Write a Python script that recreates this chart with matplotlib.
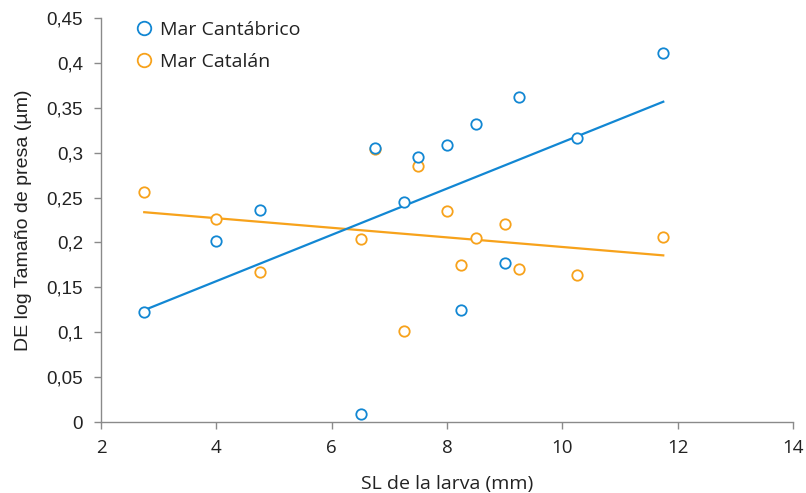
import numpy as np
import matplotlib.pyplot as plt
from matplotlib.ticker import FuncFormatter

# SL de la larva (mm)
sl = [2.75, 4.0, 4.75, 6.5, 6.75, 7.25, 7.5, 8.0, 8.25, 8.5, 9.0, 9.25, 10.25, 11.75]
cantabrico = [0.123, 0.202, 0.236, 0.009, 0.305, 0.245, 0.295, 0.309, 0.125, 0.332, 0.177, 0.362, 0.316, 0.411]
catalan = [0.256, 0.226, 0.167, 0.204, 0.304, 0.101, 0.285, 0.235, 0.175, 0.205, 0.221, 0.170, 0.164, 0.206]

blue = '#1287d3'
orange = '#f7a21b'
grey = '#8a8a8a'

fig = plt.figure(figsize=(8.06, 4.93), dpi=100)
ax = fig.add_axes([0.1253, 0.144, 0.8586, 0.8195])

x = np.array(sl)
xs = np.array([x.min(), x.max()])

# orange first, blue on top
for vals, col, lab in [(catalan, orange, 'Mar Catalán'), (cantabrico, blue, 'Mar Cantábrico')]:
    k, b = np.polyfit(x, vals, 1)
    ax.plot(xs, k * xs + b, color=col, lw=1.6, zorder=2)
    ax.plot(x, vals, 'o', mfc='white', mec=col, mew=1.3, ms=7.5, ls='none', label=lab, zorder=3)

ax.set_xlim(2, 14)
ax.set_ylim(0, 0.45)
ax.set_xticks(np.arange(2, 15, 2))
ax.set_yticks(np.arange(0, 0.451, 0.05))
ax.yaxis.set_major_formatter(FuncFormatter(lambda v, p: ('%g' % round(v, 2)).replace('.', ',')))

for s in ['top', 'right']:
    ax.spines[s].set_visible(False)
for s in ['left', 'bottom']:
    ax.spines[s].set_color(grey)
    ax.spines[s].set_linewidth(1.0)
ax.tick_params(axis='both', color=grey, length=5, width=1.0, direction='out')
ax.tick_params(axis='x', labelsize=13.5, labelcolor='#222222', pad=7)
ax.tick_params(axis='y', labelsize=13.5, labelcolor='#222222', pad=8)
for t in ax.get_xticklabels():
    t.set_family('Open Sans')
for t in ax.get_yticklabels():
    t.set_family('Liberation Sans')

ax.set_xlabel('SL de la larva (mm)', family='Open Sans', fontsize=14, color='#222222', labelpad=13)
ax.set_ylabel('DE log Tamaño de presa (µm)', family='Liberation Sans', fontsize=14, color='#222222', labelpad=10)

h, l = ax.get_legend_handles_labels()
leg = ax.legend(h[::-1], l[::-1], loc='upper left', bbox_to_anchor=(0.02, 1.037), frameon=False,
                prop={'family': 'Open Sans', 'size': 14}, handletextpad=0.2, labelspacing=0.75,
                handlelength=1.2, markerscale=1.3)
for t in leg.get_texts():
    t.set_color('#222222')

fig.savefig('out.png', dpi=100)
